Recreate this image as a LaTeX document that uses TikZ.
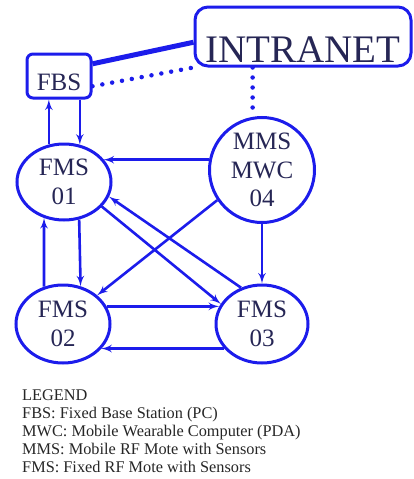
\documentclass[tikz,border=0pt]{standalone}
\usepackage{fontspec}
\setmainfont{Liberation Serif}
\usepackage{tikz}
\usetikzlibrary{shapes,arrows}
\definecolor{moteblue}{RGB}{28,28,235}
\definecolor{motetext}{RGB}{38,38,85}
\tikzstyle{line} = [draw=moteblue, line width=2.6pt, -latex']
\tikzstyle{dots} = [draw=moteblue, line width=4.5pt, line cap=round, dash pattern=on 0pt off 10pt]
\tikzstyle{wired} = [draw=moteblue, line width=5pt]
\tikzstyle{mote} = [ellipse, draw=moteblue, line width=3pt, inner sep=0pt, minimum width=94pt, minimum height=76pt, align=center, text=motetext, font=\fontsize{25}{28.5}\selectfont]
\tikzstyle{station} = [rectangle, draw=moteblue, line width=3pt, inner sep=0pt, text depth=0pt, text=motetext]
\tikzstyle{legend} = [align=left, inner sep=0pt, text=black!85, font=\fontsize{16.3}{18}\selectfont]

\begin{document}
\begin{tikzpicture}[x=1pt, y=-1pt]
		\useasboundingbox (0,0) rectangle (413,479);
		\node [mote] (fms01) at (64,182) {FMS\\01};
		\node [mote, right of=fms01, node distance=198pt, yshift=12pt, minimum width=105pt, minimum height=105pt] (mms) {MMS\\MWC\\04};
		\node [mote, below of=fms01, node distance=142pt, xshift=-1pt, minimum height=78pt] (fms02) {FMS\\02};
		\node [mote, right of=fms02, node distance=199pt, minimum width=92pt, minimum height=78pt] (fms03) {FMS\\03};
		
		\node [station, above of=fms01, node distance=106pt, xshift=-5pt, rounded corners=6pt, minimum width=64pt, minimum height=44pt, text height=28pt, font=\fontsize{25}{28}\selectfont] (fbs) {FBS};
		\node [station, above of=mms, node distance=133.5pt, xshift=41pt, rounded corners=13pt, minimum width=216pt, minimum height=59pt, text height=51pt, font=\fontsize{39}{40}\selectfont] (intranet) {INTRANET};
		
		% links to the intranet
		\path [wired] (fbs.20) -- (intranet.183);
		\path [dots] (fbs.343) -- (intranet.south west);
		\path [dots] (intranet.south -| mms.100) -- (mms.100);
		
		\path [line] (fms01.112) -- (fms01.112 |- fbs.south);
		\path [line] (fms01.67 |- fbs.south) -- (fms01.67);
		\path [line] (mms.169) -- (mms.169 -| fms01.30);
		\path [line] (mms.214) -- (fms02.40);
		\path [line] (mms.south) -- (fms03.north);
		\path [line] (fms01.327) -- (fms03.154);
		\path [line] (fms03.120) -- (fms01.342);
		\path [line] (fms02.117) -- (fms01.241);
		\path [line] (fms01.292) -- (fms02.65);
		\path [line] (fms02.22) -- (fms02.22 -| fms03.158);
		\path [line] (fms03.213) -- (fms03.213 -| fms02.327);
		
		\node [legend, anchor=north west] (legend) at (22,390) {LEGEND\\FBS: Fixed Base Station (PC)\\MWC: Mobile Wearable Computer (PDA)\\MMS: Mobile RF Mote with Sensors\\FMS: Fixed RF Mote with Sensors};
\end{tikzpicture}
\end{document}
